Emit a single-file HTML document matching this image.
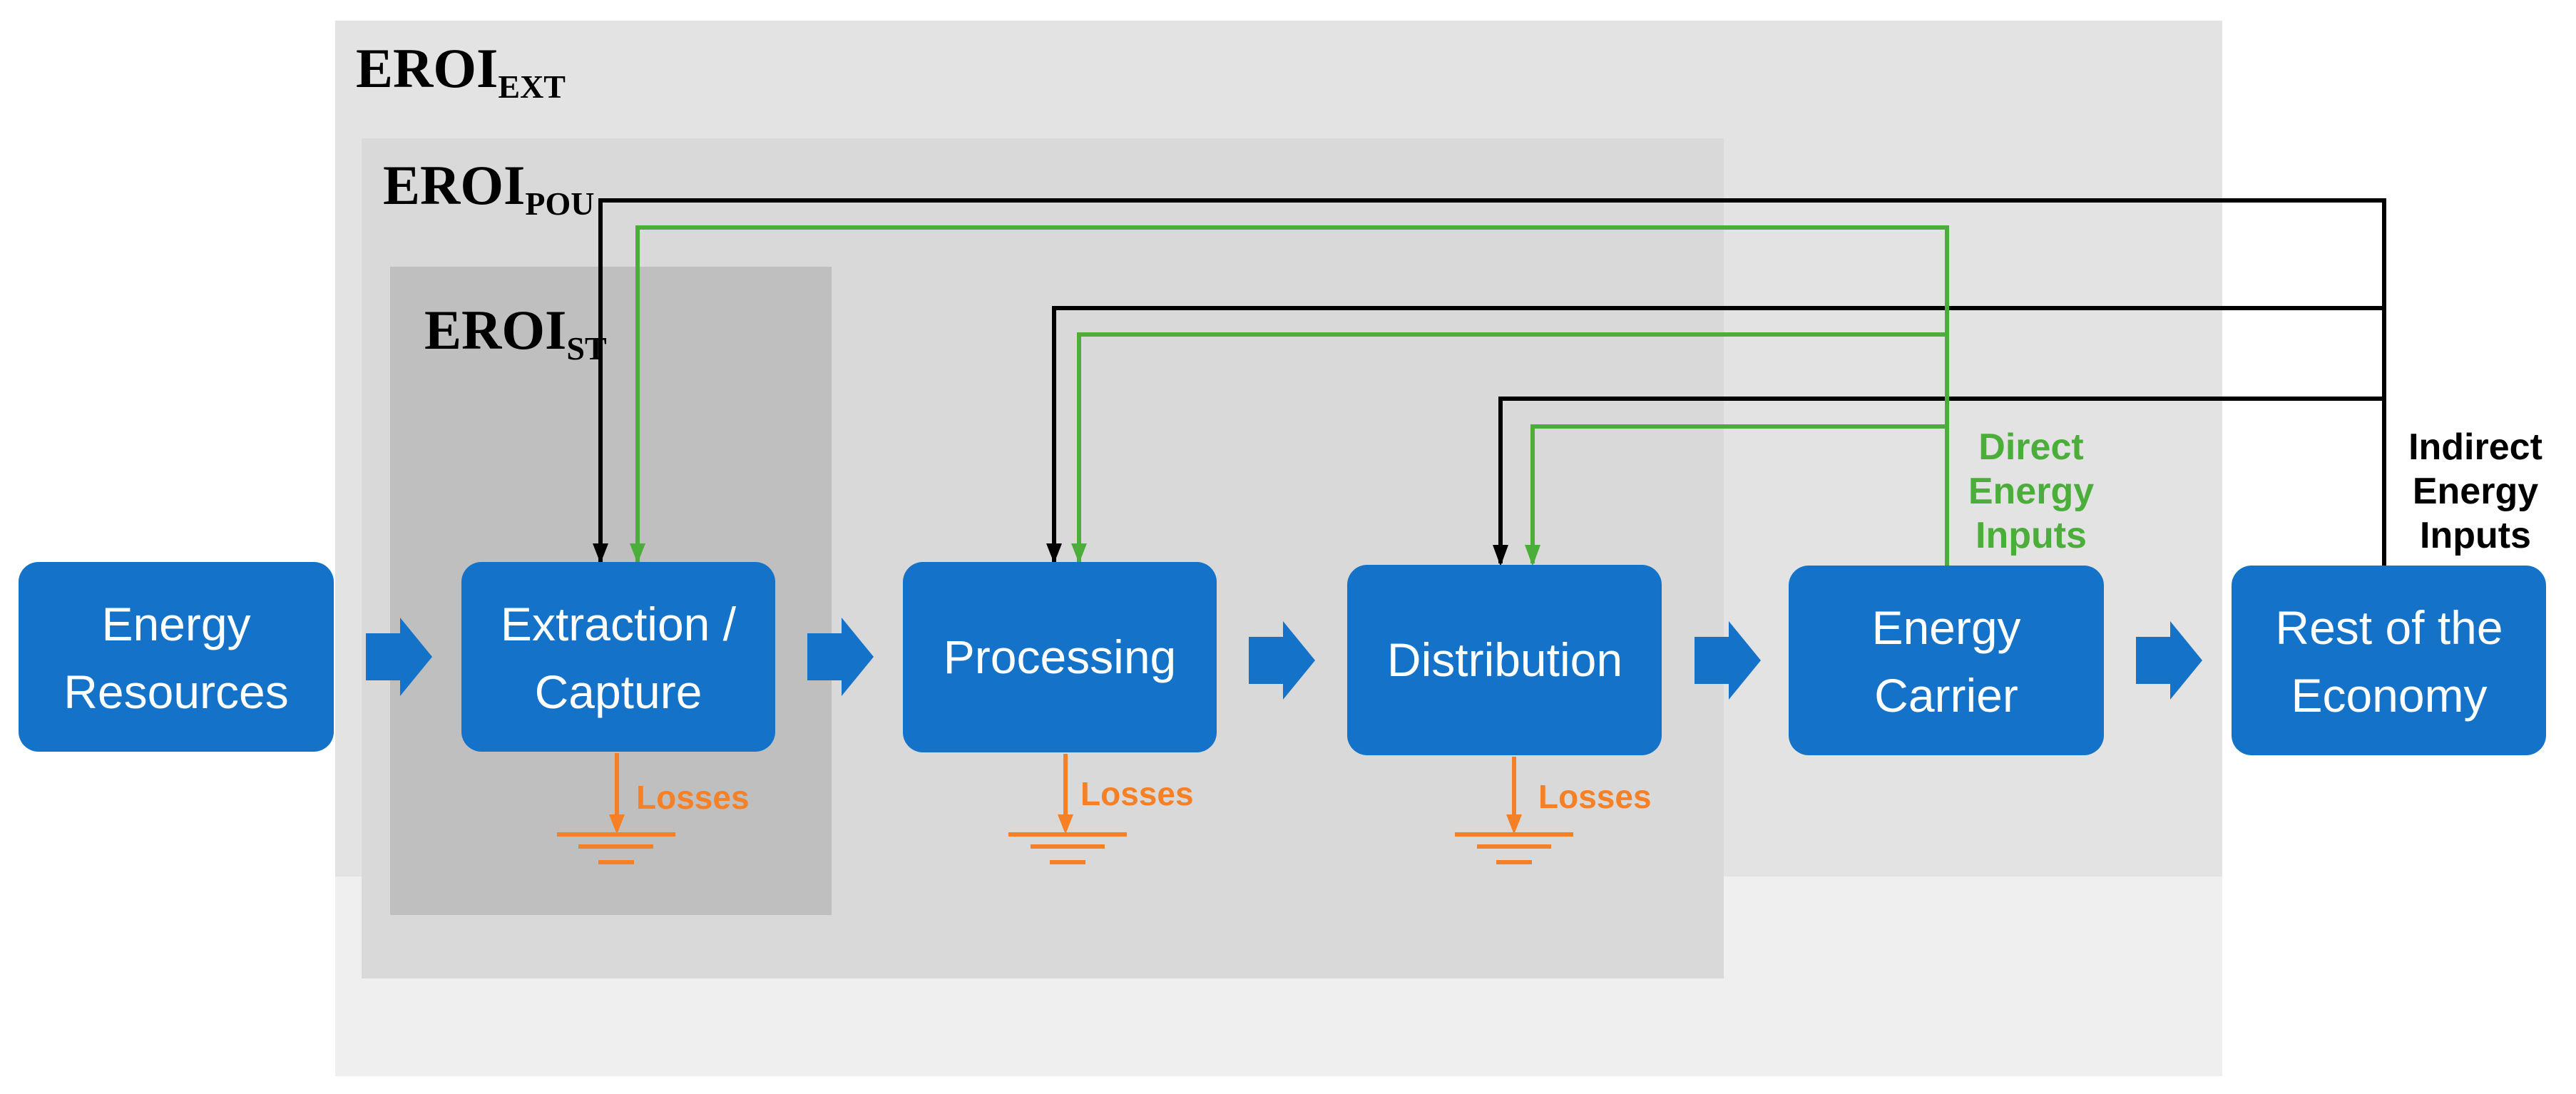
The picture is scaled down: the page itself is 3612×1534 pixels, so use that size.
<!DOCTYPE html>
<html><head><meta charset="utf-8"><style>html,body{margin:0;padding:0;background:#fff}svg{display:block}</style></head>
<body>
<svg width="3612" height="1534" viewBox="0 0 3612 1534" xmlns="http://www.w3.org/2000/svg">
<rect x="0" y="0" width="3612" height="1534" fill="#fff"/>
<rect x="470" y="29" width="2646" height="1480" fill="#efefef"/>
<rect x="470" y="29" width="2646" height="1200" fill="#e3e3e3"/>
<rect x="507" y="194" width="1910" height="1178" fill="#d9d9d9"/>
<rect x="547" y="374" width="619" height="909" fill="#bfbfbf"/>

<g font-family="Liberation Serif, serif" font-weight="bold" fill="#000">
<text x="499" y="122" font-size="78">EROI<tspan font-size="46" dy="15">EXT</tspan></text>
<text x="537" y="286" font-size="78">EROI<tspan font-size="46" dy="15">POU</tspan></text>
<text x="595" y="489" font-size="78">EROI<tspan font-size="46" dy="15">ST</tspan></text>
</g>

<!-- feedback lines -->
<g fill="none" stroke-width="6">
<path d="M842 790 V281 H3343 V796" stroke="#000"/>
<path d="M1478 790 V432 H3343" stroke="#000"/>
<path d="M2104 790 V559 H3343" stroke="#000"/>
<path d="M894 790 V319 H2730 V796" stroke="#4bae3a"/>
<path d="M1513 790 V469 H2730" stroke="#4bae3a"/>
<path d="M2149 790 V598 H2730" stroke="#4bae3a"/>
</g>
<g>
<polygon points="831,762 853,762 842,790" fill="#000"/>
<polygon points="883,762 905,762 894,790" fill="#4bae3a"/>
<polygon points="1467,762 1489,762 1478,790" fill="#000"/>
<polygon points="1502,762 1524,762 1513,790" fill="#4bae3a"/>
<polygon points="2093,764 2115,764 2104,794" fill="#000"/>
<polygon points="2138,764 2160,764 2149,794" fill="#4bae3a"/>
</g>

<!-- boxes -->
<g fill="#1473c8">
<rect x="26" y="788" width="442" height="266" rx="28"/>
<rect x="647" y="788" width="440" height="266" rx="28"/>
<rect x="1266" y="788" width="440" height="267" rx="28"/>
<rect x="1889" y="792" width="441" height="267" rx="28"/>
<rect x="2508" y="793" width="442" height="266" rx="28"/>
<rect x="3129" y="793" width="441" height="266" rx="28"/>
</g>

<!-- arrows -->
<g fill="#1473c8">
<polygon points="513,888 561,888 561,866 606,921 561,976 561,954 513,954"/>
<polygon points="1132,888 1180,888 1180,866 1225,921 1180,976 1180,954 1132,954"/>
<polygon points="1751,893 1799,893 1799,871 1844,926 1799,981 1799,959 1751,959"/>
<polygon points="2376,893 2424,893 2424,871 2469,926 2424,981 2424,959 2376,959"/>
<polygon points="2995,893 3043,893 3043,871 3088,926 3043,981 3043,959 2995,959"/>
</g>

<g font-family="Liberation Sans, sans-serif" font-size="66" fill="#fff" text-anchor="middle">
<text x="247" y="898">Energy</text><text x="247" y="993">Resources</text>
<text x="867" y="898">Extraction /</text><text x="867" y="993">Capture</text>
<text x="1486" y="944">Processing</text>
<text x="2110" y="948">Distribution</text>
<text x="2729" y="903">Energy</text><text x="2729" y="998">Carrier</text>
<text x="3350" y="903">Rest of the</text><text x="3350" y="998">Economy</text>
</g>

<g font-family="Liberation Sans, sans-serif" font-size="52" font-weight="bold" text-anchor="middle">
<g fill="#4bae3a"><text x="2848" y="644">Direct</text><text x="2848" y="706">Energy</text><text x="2848" y="768">Inputs</text></g>
<g fill="#000"><text x="3471" y="644">Indirect</text><text x="3471" y="706">Energy</text><text x="3471" y="768">Inputs</text></g>
</g>

<!-- losses -->
<g stroke="#f58025" stroke-width="6" fill="none">
<path d="M865 1056 V1150"/><path d="M781 1170 H947 M811 1187 H916 M839 1209 H889"/>
<path d="M1494 1057 V1150"/><path d="M1414 1170 H1580 M1445 1187 H1549 M1472 1209 H1522"/>
<path d="M2123 1061 V1150"/><path d="M2040 1170 H2206 M2071 1187 H2175 M2098 1209 H2148"/>
</g>
<g fill="#f58025">
<polygon points="854,1142 876,1142 865,1170"/>
<polygon points="1483,1142 1505,1142 1494,1170"/>
<polygon points="2112,1142 2134,1142 2123,1170"/>
</g>
<g font-family="Liberation Sans, sans-serif" font-size="46" font-weight="bold" fill="#f58025">
<text x="892" y="1134">Losses</text>
<text x="1515" y="1129">Losses</text>
<text x="2157" y="1133">Losses</text>
</g>
</svg>
</body></html>
